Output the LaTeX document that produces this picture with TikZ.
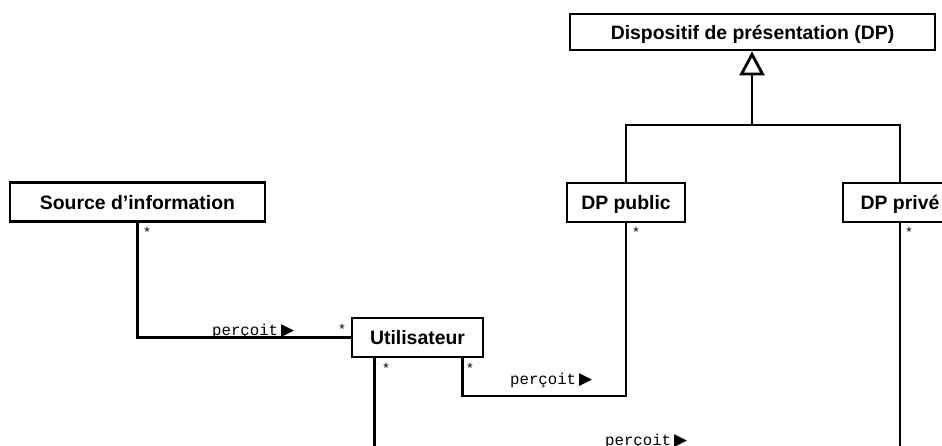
\documentclass[tikz,border=0pt]{standalone}
\usepackage{fontspec}
\setmainfont{Liberation Sans}
\newfontfamily\monofont{Liberation Mono}
\newfontfamily\symfont{DejaVu Sans}
\usetikzlibrary{arrows.meta,positioning}

\tikzset{
  classbox/.style={draw,line width=2.8pt,minimum height=39pt,inner sep=0pt,text depth=0pt,
    font=\fontsize{19.4}{23}\selectfont\bfseries},
  assoc/.style={line width=2.8pt},
  mult/.style={font=\monofont\fontsize{14}{15}\selectfont,inner sep=0pt},
  rolelbl/.style={font=\monofont\fontsize{15.7}{17}\selectfont,inner sep=0pt,anchor=base west}
}
\newcommand{\arrowright}{\hspace{3pt}{\symfont\fontsize{17}{18}\selectfont ▶}}

\begin{document}
\begin{tikzpicture}[x=1pt,y=-1pt]
\clip (0,0) rectangle (942,446);
\useasboundingbox (0,0) rectangle (942,446);

% ===== classes =====
\node[classbox,minimum width=365pt,minimum height=36pt] (dp) at (752.5,32) {Dispositif de présentation (DP)};
\node[classbox,minimum width=255pt] (src) at (137.5,202) {Source d’information};
\node[classbox,minimum width=118pt] (pub) at (626,202.5) {DP public};
\node[classbox,minimum width=114pt] (priv) at (900,202.5) {DP privé};
\node[classbox,minimum width=131pt] (user) at (417.5,337.5) {Utilisateur};

% ===== generalisation =====
\coordinate (gen) at (752,125);
\draw[assoc] (pub.north) |- (gen) -| (priv.north);
\draw[assoc,-{Triangle[open,length=24pt,width=25pt,line width=2.8pt]}] (gen) -- (dp.south -| gen);

% ===== associations =====
\draw[assoc] (src.south) |- (user.west);
\coordinate (k1) at (626,396);
\draw[assoc] ([xshift=-22pt]user.south east) |- (k1) -- (pub.south);
\coordinate (k2) at (900,455);
\draw[assoc] ([xshift=24pt]user.south west) |- (k2) -- (priv.south);

% role names
\node[rolelbl] (r1) at (212,335) {perçoit\arrowright};
\node[rolelbl] (r2) at (510,384) {perçoit\arrowright};
\node[rolelbl] (r3) at (605,445) {perçoit\arrowright};

% multiplicities
\node[mult] (m1) at (147,232) {*};
\node[mult] (m2) at (342,329) {*};
\node[mult] (m3) at (386,368) {*};
\node[mult] (m4) at (470,368) {*};
\node[mult] (m5) at (636,232) {*};
\node[mult] (m6) at (909,232) {*};

\end{tikzpicture}
\end{document}
